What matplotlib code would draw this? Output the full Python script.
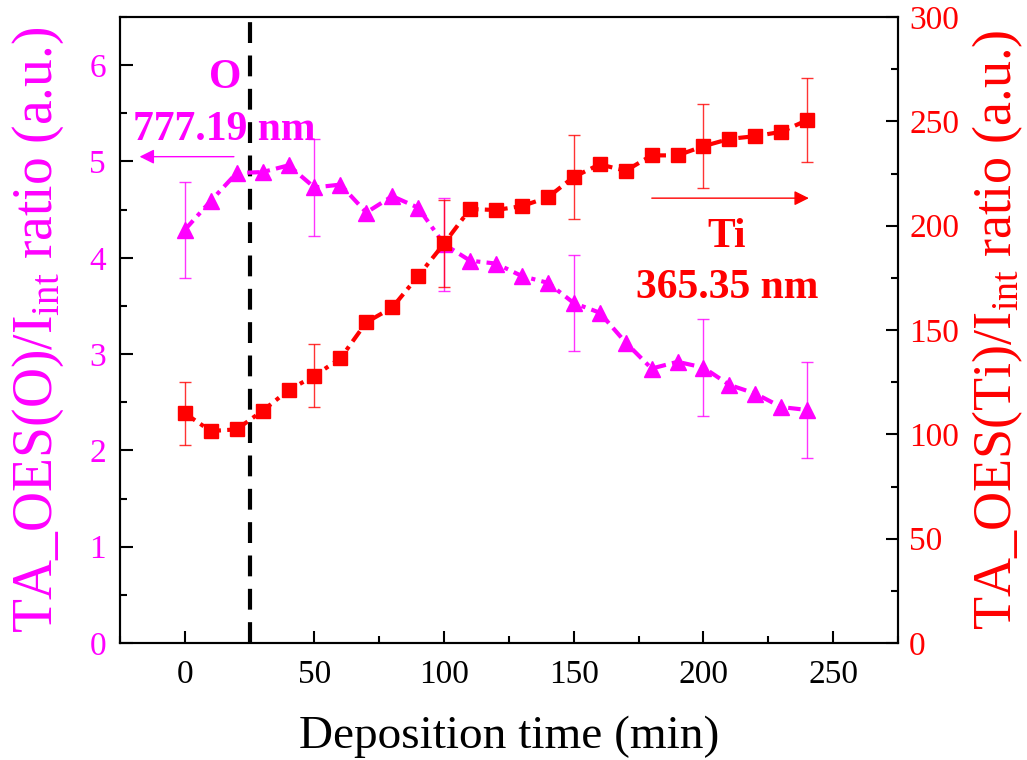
import matplotlib.pyplot as plt
import numpy as np

plt.rcParams['font.family'] = 'Liberation Serif'
plt.rcParams['mathtext.fontset'] = 'custom'
plt.rcParams['mathtext.rm'] = 'Liberation Serif'
plt.rcParams['mathtext.it'] = 'Liberation Serif:italic'

# Deposition time (min)
time = [0, 10, 20, 30, 40, 50, 60, 70, 80, 90, 100, 110, 120, 130, 140, 150,
        160, 170, 180, 190, 200, 210, 220, 230, 240]
# O 777.19 nm ratio (left axis)
o_ratio = [4.29, 4.59, 4.88, 4.89, 4.96, 4.73, 4.76, 4.47, 4.64, 4.52, 4.14, 3.97,
           3.94, 3.81, 3.74, 3.53, 3.43, 3.12, 2.85, 2.92, 2.86, 2.68, 2.59, 2.45, 2.42]
# Ti 365.35 nm ratio (right axis)
ti_ratio = [110.1, 101.6, 102.4, 111.3, 121.2, 128.1, 136.4, 153.7, 160.8, 175.9,
            191.5, 208.0, 207.5, 209.4, 213.6, 223.4, 229.4, 226.3, 233.7, 233.7,
            238.1, 241.6, 242.9, 245.0, 250.6]
# error bars (only at selected points)
err_time = [0, 50, 100, 150, 200, 240]
o_err = [0.5, 0.5, 0.48, 0.5, 0.5, 0.5]
ti_err = [15, 15, 21, 20, 20, 20]

MAG = '#FF00FF'
RED = '#FF0000'

fig = plt.figure(figsize=(10.27, 7.6), dpi=100)
ax = fig.add_axes([0.1168, 0.1539, 0.7576, 0.8237])
ax2 = ax.twinx()

o_idx = [time.index(t) for t in err_time]
ax.errorbar(err_time, [o_ratio[i] for i in o_idx], yerr=o_err, fmt='none',
            ecolor=MAG, elinewidth=1, capsize=4.5, capthick=1, alpha=0.8, zorder=2)
ax.plot(time, o_ratio, color=MAG, lw=3, linestyle=(0, (3, 1.5, 1, 1.5)),
        marker='^', markersize=12, zorder=3)
ax.axvline(25, color='black', lw=3, linestyle=(0, (5, 3)), zorder=1)

ax2.errorbar(err_time, [ti_ratio[i] for i in o_idx], yerr=ti_err, fmt='none',
             ecolor=RED, elinewidth=1, capsize=4.5, capthick=1, alpha=0.8, zorder=2)
ax2.plot(time, ti_ratio, color=RED, lw=3, linestyle=(0, (3, 1.5, 1, 1.5)),
         marker='s', markersize=10, zorder=3)

ax.set_xlim(-25, 275)
ax.set_ylim(0, 6.5)
ax2.set_ylim(0, 300)
ax.set_xticks(np.arange(0, 251, 50))
ax.set_xticks(np.arange(-25, 276, 25), minor=True)
ax.set_yticks(np.arange(0, 7, 1))
ax.set_yticks(np.arange(0, 6.6, 0.5), minor=True)
ax2.set_yticks(np.arange(0, 301, 50))
ax2.set_yticks(np.arange(0, 301, 25), minor=True)

ax.tick_params(axis='both', which='major', direction='in', length=9, width=1.5, labelsize=24, pad=12)
ax.tick_params(axis='y', pad=10)
ax.tick_params(axis='both', which='minor', direction='in', length=5, width=1.5)
ax.tick_params(axis='y', colors='black', labelcolor=MAG)
ax2.tick_params(axis='y', which='major', direction='in', length=9, width=1.5, labelsize=24, labelcolor=RED, pad=8)
ax2.tick_params(axis='y', which='minor', direction='in', length=5, width=1.5)
for a in (ax, ax2):
    for spine in a.spines.values():
        spine.set_linewidth(1.5)

ax.set_xlabel('Deposition time (min)', fontsize=34, labelpad=18)
ax.set_ylabel(r'TA_OES(O)/I$_{\mathregular{int}}$ ratio (a.u.)', fontsize=40, color=MAG, labelpad=17)
ax2.set_ylabel(r'TA_OES(Ti)/I$_{\mathregular{int}}$ ratio (a.u.)', fontsize=39, color=RED, labelpad=8)

# annotations
ax.text(15.4, 5.87, 'O', color=MAG, fontsize=30, fontweight='bold', ha='center', va='center')
ax.text(15.4, 5.33, '777.19 nm', color=MAG, fontsize=30, fontweight='bold', ha='center', va='center')
ax.annotate('', xy=(-18.5, 5.05), xytext=(20, 5.05),
            arrowprops=dict(arrowstyle='-|>', color=MAG, lw=1, mutation_scale=22))
ax2.text(209, 194.5, 'Ti', color=RED, fontsize=30, fontweight='bold', ha='center', va='center')
ax2.text(209, 170, '365.35 nm', color=RED, fontsize=30, fontweight='bold', ha='center', va='center')
ax2.annotate('', xy=(241.7, 213.2), xytext=(179, 213.2),
             arrowprops=dict(arrowstyle='-|>', color=RED, lw=1, mutation_scale=22))

fig.savefig('out.png', dpi=100)
